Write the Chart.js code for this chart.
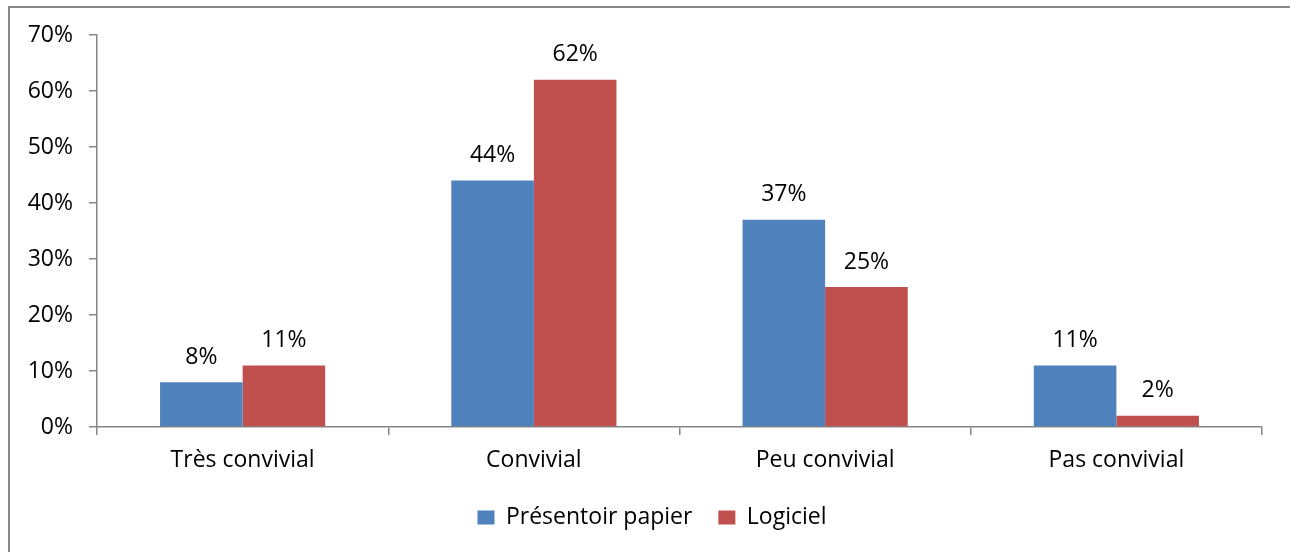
<!DOCTYPE html>
<html>
<head>
<meta charset="utf-8">
<script src="https://cdn.jsdelivr.net/npm/chart.js@4"></script>
<style>
  html, body { margin: 0; padding: 0; background: #fff; overflow: hidden; }
  #wrap { position: relative; width: 1290px; height: 552px; }
  #frame { position: absolute; left: 8px; top: 6px; width: 1400px; height: 700px;
           border-left: 2px solid #868686; border-top: 2px solid #868686; box-sizing: border-box; }
  canvas { position: absolute; left: 0; top: 0; }
</style>
</head>
<body>
<div id="wrap">
  <div id="frame"></div>
  <canvas id="c" width="1290" height="552"></canvas>
</div>
<script>
const categories = ['Très convivial', 'Convivial', 'Peu convivial', 'Pas convivial'];
const papierValues = [8, 44, 37, 11];
const logicielValues = [11, 62, 25, 2];
const seriesNames = ['Présentoir papier', 'Logiciel'];
const yTicks = [0, 10, 20, 30, 40, 50, 60, 70];

const FONT = "'Open Sans', Lato, sans-serif";
const FONT_SIZE = 23;
const AXIS_GRAY = '#868686';
const LEGEND_CENTER_X = 652;

// Percent labels above each bar
const valueLabels = {
  id: 'valueLabels',
  afterDatasetsDraw(chart) {
    const ctx = chart.ctx;
    ctx.save();
    ctx.font = FONT_SIZE + 'px ' + FONT;
    ctx.fillStyle = '#000';
    ctx.textAlign = 'center';
    ctx.textBaseline = 'middle';
    chart.data.datasets.forEach((ds, i) => {
      chart.getDatasetMeta(i).data.forEach((bar, j) => {
        ctx.fillText(ds.data[j] + '%', bar.x, bar.y - 25);
      });
    });
    ctx.restore();
  }
};

// Place the centred legend row around a fixed horizontal position
const legendPlacement = {
  id: 'legendPlacement',
  afterLayout(chart) {
    const lg = chart.legend;
    if (!lg) return;
    const shift = LEGEND_CENTER_X - (lg.left + lg.right) / 2;
    lg.left += shift;
    lg.right += shift;
  }
};

new Chart(document.getElementById('c'), {
  type: 'bar',
  data: {
    labels: categories,
    datasets: [
      { label: seriesNames[0], data: papierValues, backgroundColor: '#4F81BD' },
      { label: seriesNames[1], data: logicielValues, backgroundColor: '#C0504D' }
    ]
  },
  options: {
    responsive: false,
    animation: false,
    devicePixelRatio: 1,
    layout: { padding: { top: 35, right: 28, bottom: 13, left: 0 } },
    datasets: { bar: { barPercentage: 1, categoryPercentage: 0.567 } },
    plugins: {
      tooltip: { enabled: false },
      legend: {
        position: 'bottom',
        labels: {
          font: { family: FONT, size: FONT_SIZE },
          color: '#000',
          boxWidth: 17,
          boxHeight: 14,
          padding: 26
        }
      }
    },
    scales: {
      x: {
        grid: { offset: true, drawOnChartArea: false, tickLength: 8, color: AXIS_GRAY, lineWidth: 1.5 },
        border: { color: AXIS_GRAY, width: 1.5 },
        ticks: { font: { family: FONT, size: FONT_SIZE }, color: '#000', padding: 12, maxRotation: 0 },
        afterFit(scale) { scale.height = 53; }
      },
      y: {
        min: 0, max: 70,
        afterBuildTicks(scale) { scale.ticks = yTicks.map(v => ({ value: v })); },
        grid: { drawOnChartArea: false, tickLength: 8, color: AXIS_GRAY, lineWidth: 1.5 },
        border: { color: AXIS_GRAY, width: 1.5 },
        ticks: { font: { family: FONT, size: FONT_SIZE }, color: '#000', padding: 16, callback: v => v + '%' },
        afterFit(scale) { scale.width = 97; }
      }
    }
  },
  plugins: [valueLabels, legendPlacement]
});
</script>
</body>
</html>
